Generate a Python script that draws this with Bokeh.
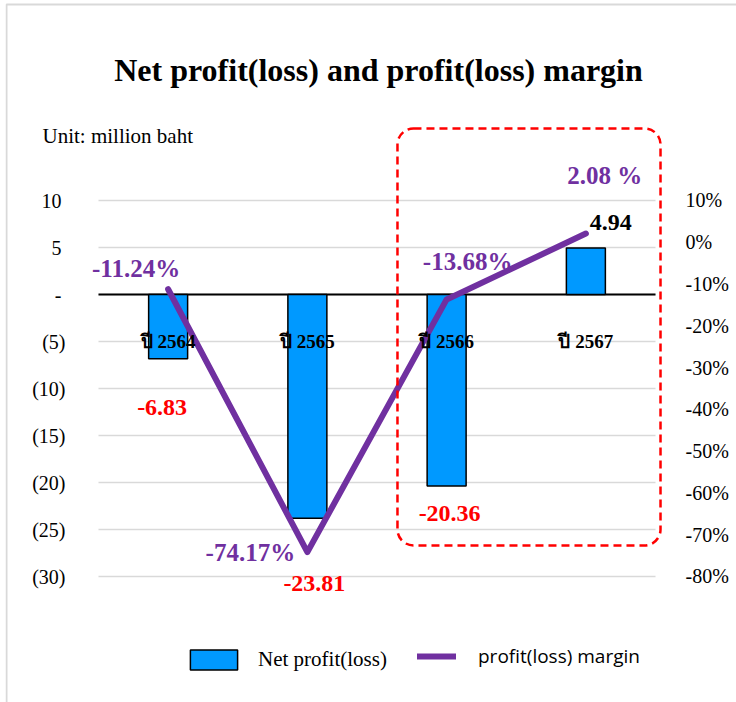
from bokeh.plotting import figure
from bokeh.models import (Range1d, LinearAxis, FixedTicker, Grid, BoxAnnotation,
                          Label, Legend, LegendItem, ColumnDataSource)
from bokeh.core.properties import value
from bokeh.embed import file_html
from bokeh.resources import INLINE

# ---- data ----
categories = ["ปี 2564", "ปี 2565", "ปี 2566", "ปี 2567"]
net_profit = [-6.83, -23.81, -20.36, 4.94]
margin_pct = [-11.24, -74.17, -13.68, 2.08]
net_labels = ["-6.83", "-23.81", "-20.36", "4.94"]
margin_labels = ["-11.24%", "-74.17%", "-13.68%", "2.08 %"]
left_ticks = [10, 5, 0, -5, -10, -15, -20, -25, -30]
left_tick_labels = ["10\u2009", "5\u2009", "-\u2009", "(5)", "(10)", "(15)", "(20)", "(25)", "(30)"]
right_ticks = [10, 0, -10, -20, -30, -40, -50, -60, -70, -80]
right_tick_labels = ["10%", "0%", "-10%", "-20%", "-30%", "-40%", "-50%", "-60%", "-70%", "-80%"]

# ---- layout (label placement, px) ----
net_dx = [-6, 7, 3, 25]
net_dy = [49, 65, 28, -26]
net_colors = ["#ff0000", "#ff0000", "#ff0000", "#000000"]
mar_dx = [-32, -57, 21, 19]
mar_dy = [-21, 0, -38, -58]

SERIF = "Liberation Serif"
x_pos = [i + 0.5 for i in range(len(categories))]

p = figure(width=736, height=702, output_backend="svg", toolbar_location=None,
           x_range=Range1d(-0.6679, 4.5817),
           y_range=Range1d(-43.404, 31.064),
           min_border_left=5, min_border_right=0, min_border_top=2, min_border_bottom=0)
p.extra_y_ranges = {"pct": Range1d(-110.16, 57.39)}
p.outline_line_color = None
p.background_fill_color = "white"
p.border_fill_color = "white"
p.xaxis.visible = False
p.xgrid.visible = False

# left axis
ya = p.yaxis[0]
ya.ticker = FixedTicker(ticks=left_ticks)
ya.major_label_overrides = {t: s for t, s in zip(left_ticks, left_tick_labels)}
ya.axis_line_color = None
ya.major_tick_line_color = None
ya.minor_tick_line_color = None
ya.major_tick_in = 0
ya.major_tick_out = 0
ya.major_label_standoff = -60
ya.major_label_text_font = SERIF
ya.major_label_text_font_size = "20px"
ya.major_label_text_color = "#000000"

p.ygrid.ticker = FixedTicker(ticks=left_ticks)
p.ygrid.grid_line_color = "#d9d9d9"
p.ygrid.grid_line_width = 1.5
p.ygrid.cross_bounds = (0, 4)

# zero line
p.add_layout(Grid(dimension=1, ticker=FixedTicker(ticks=[0]), grid_line_color="black",
                  grid_line_width=2, cross_bounds=(0, 4)))

# right axis
ra = LinearAxis(y_range_name="pct", ticker=FixedTicker(ticks=right_ticks))
ra.major_label_overrides = {t: s for t, s in zip(right_ticks, right_tick_labels)}
ra.axis_line_color = None
ra.major_tick_line_color = None
ra.minor_tick_line_color = None
ra.major_tick_in = 0
ra.major_tick_out = 0
ra.major_label_standoff = -51
ra.major_label_text_font = SERIF
ra.major_label_text_font_size = "20px"
ra.major_label_text_color = "#000000"
p.add_layout(ra, "right")

# chart border
p.add_layout(BoxAnnotation(left=1, right=900, top=698, bottom=-100,
                           left_units="screen", right_units="screen",
                           top_units="screen", bottom_units="screen",
                           fill_alpha=0, line_color="#d9d9d9", line_alpha=1, line_width=2,
                           editable=False, level="underlay"))

src = ColumnDataSource(dict(x=x_pos, cat=categories, net=net_profit, pct=margin_pct,
                            net_lab=net_labels, pct_lab=margin_labels,
                            net_col=net_colors, ndx=net_dx, ndy=net_dy,
                            mdx=mar_dx, mdy=mar_dy, zero=[0] * 4,
                            lab_y=[-5] * 4))

bars = p.vbar(x="x", top="net", bottom="zero", width=0.28, source=src,
              fill_color="#0099ff", line_color="black", line_width=1.5)

line = p.line(x="x", y="pct", source=src, y_range_name="pct",
              line_color="#7030a0", line_width=6, line_cap="round", line_join="round")

# category labels
p.text(x="x", y="lab_y", text="cat", source=src, text_align="center", text_baseline="middle",
       text_font=value(SERIF), text_font_style="bold", text_font_size="19px", text_color="black")

# net labels
p.text(x="x", y="net", text="net_lab", source=src, x_offset="ndx", y_offset="ndy",
       text_align="center", text_baseline="middle", text_font=value(SERIF),
       text_font_style="bold", text_font_size="24px", text_color="net_col")

# margin labels
p.text(x="x", y="pct", text="pct_lab", source=src, y_range_name="pct",
       x_offset="mdx", y_offset="mdy", text_align="center", text_baseline="middle",
       text_font=value(SERIF), text_font_style="bold", text_font_size="25px",
       text_color="#7030a0")

# red dashed highlight box
p.add_layout(BoxAnnotation(left=2.147, right=4.036, top=17.66, bottom=-26.70,
                           fill_alpha=0, line_color="#ff0000", line_alpha=1, line_width=2.5,
                           line_dash="8 5", border_radius=16, editable=False))

# title and unit
p.add_layout(Label(x=373, y=633, x_units="screen", y_units="screen",
                   text="Net profit(loss) and profit(loss) margin",
                   text_align="center", text_baseline="middle",
                   text_font=SERIF, text_font_style="bold", text_font_size="32px",
                   text_color="black"))
p.add_layout(Label(x=37, y=567, x_units="screen", y_units="screen",
                   text="Unit: million baht", text_align="left", text_baseline="middle",
                   text_font=SERIF, text_font_size="21px", text_color="black"))

# legends
leg1 = Legend(items=[LegendItem(label="Net profit(loss)", renderers=[bars])],
              location=(179, 30), orientation="horizontal", padding=0, margin=0, spacing=0,
              glyph_width=59, glyph_height=25, label_height=25, label_standoff=15,
              border_line_color=None, background_fill_alpha=0,
              label_text_font=SERIF, label_text_font_size="21px", label_text_color="black")
leg2 = Legend(items=[LegendItem(label="profit(loss) margin", renderers=[line])],
              location=(412, 33), orientation="horizontal", padding=0, margin=0, spacing=0,
              glyph_width=39, glyph_height=20, label_height=20, label_standoff=22,
              border_line_color=None, background_fill_alpha=0,
              label_text_font="Open Sans", label_text_font_size="19px", label_text_color="black")
p.add_layout(leg1)
p.add_layout(leg2)

open("out.html", "w").write(file_html(p, INLINE))
